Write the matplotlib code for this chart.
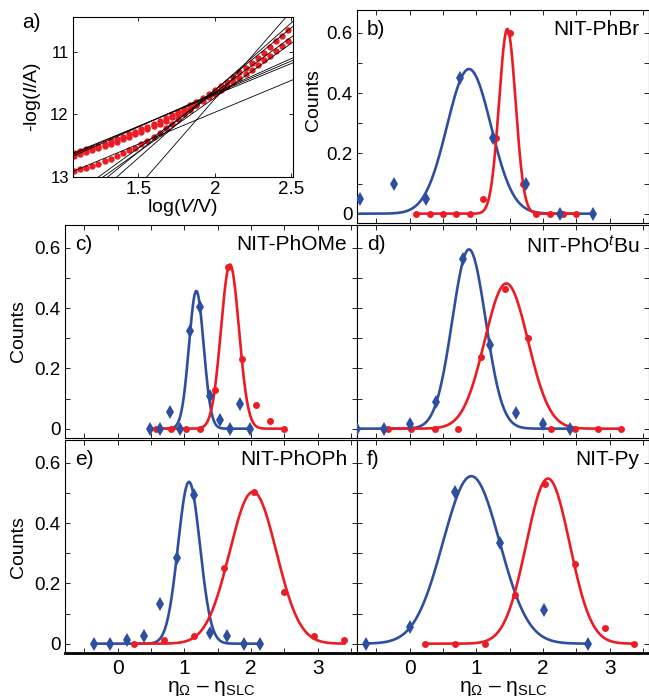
import numpy as np
import matplotlib
matplotlib.use("Agg")
import matplotlib.pyplot as plt

plt.rcParams['font.family'] = 'Liberation Sans'
plt.rcParams['mathtext.fontset'] = 'custom'
plt.rcParams['mathtext.rm'] = 'Liberation Sans'
plt.rcParams['mathtext.it'] = 'Liberation Sans:italic'
plt.rcParams['mathtext.sf'] = 'Liberation Sans'

RED = '#ec1c24'
BLUE = '#2e4fa0'

# ---- panel a: log-log I-V curves ----
logv_a = [1.08, 1.12, 1.16, 1.20, 1.24, 1.28, 1.32, 1.36, 1.40, 1.44, 1.48, 1.52,
          1.56, 1.60, 1.64, 1.68, 1.72, 1.76, 1.80, 1.84, 1.88, 1.92, 1.96, 2.00,
          2.04, 2.08, 2.12, 2.16, 2.20, 2.24, 2.28, 2.32, 2.36, 2.40, 2.44, 2.48]
logi_a1 = [12.62, 12.59, 12.56, 12.53, 12.50, 12.47, 12.43, 12.40, 12.36, 12.32, 12.28, 12.24,
           12.20, 12.15, 12.11, 12.06, 12.01, 11.96, 11.91, 11.85, 11.80, 11.74, 11.68, 11.61,
           11.55, 11.48, 11.41, 11.33, 11.26, 11.18, 11.10, 11.02, 10.93, 10.84, 10.75, 10.66]
logi_a2 = [12.66, 12.63, 12.60, 12.57, 12.54, 12.51, 12.47, 12.44, 12.40, 12.36, 12.32, 12.28,
           12.24, 12.19, 12.15, 12.10, 12.05, 12.00, 11.95, 11.90, 11.85, 11.79, 11.73, 11.67,
           11.61, 11.55, 11.49, 11.42, 11.36, 11.29, 11.22, 11.14, 11.07, 10.99, 10.92, 10.84]
logi_a3 = [12.90, 12.87, 12.85, 12.82, 12.79, 12.75, 12.71, 12.67, 12.62, 12.57, 12.53, 12.48,
           12.43, 12.37, 12.30, 12.22, 12.15, 12.08, 12.00, 11.93, 11.86]
# fit lines: (x0, y0, x1, y1)
fit_lines_a = [
    (1.074, 12.67, 2.51, 11.10),
    (1.074, 12.64, 2.51, 11.14),
    (1.074, 12.62, 2.51, 11.18),
    (1.074, 12.91, 2.51, 11.45),
    (1.24, 13.0, 2.51, 10.75),
    (1.27, 13.0, 2.51, 10.85),
    (1.30, 13.0, 2.51, 10.60),
    (1.36, 13.0, 2.51, 10.52),
    (1.555, 13.0, 2.465, 10.45),
]

# ---- histogram panels b-f ----
panels = ['b)', 'c)', 'd)', 'e)', 'f)']
names = ['NIT-PhBr', 'NIT-PhOMe', 'NIT-PhO$^{t}$Bu', 'NIT-PhOPh', 'NIT-Py']

blue_x = [
    [-0.75, -0.24, 0.25, 0.755, 1.255, 1.75, 2.25, 2.75],
    [0.48, 0.63, 0.78, 0.93, 1.08, 1.23, 1.38, 1.53, 1.68, 1.83, 1.98],
    [-0.79, -0.39, 0.01, 0.40, 0.80, 1.20, 1.60, 2.00, 2.40],
    [-0.35, -0.11, 0.14, 0.39, 0.64, 0.89, 1.14, 1.39, 1.64, 1.89, 2.14],
    [-0.66, 0.0, 0.675, 1.35, 2.01, 2.68],
]
blue_y = [
    [0.05, 0.10, 0.05, 0.45, 0.25, 0.10, 0.0, 0.0],
    [0.0, 0.0, 0.055, 0.0, 0.324, 0.405, 0.107, 0.028, 0.0, 0.082, 0.0],
    [0.0, 0.0, 0.014, 0.087, 0.564, 0.277, 0.053, 0.014, 0.0],
    [0.0, 0.0, 0.013, 0.025, 0.13, 0.284, 0.493, 0.037, 0.025, 0.0, 0.0],
    [0.0, 0.055, 0.504, 0.334, 0.111, 0.0],
]
red_x = [
    [0.1, 0.3, 0.5, 0.7, 0.9, 1.1, 1.3, 1.5, 1.7, 1.9, 2.1, 2.3, 2.5],
    [0.58, 0.80, 1.03, 1.23, 1.46, 1.66, 1.87, 2.07, 2.28, 2.49],
    [-0.325, 0.025, 0.375, 0.725, 1.075, 1.425, 1.775, 2.125, 2.475, 2.825, 3.175],
    [0.24, 0.69, 1.14, 1.59, 2.05, 2.50, 2.95, 3.40],
    [0.23, 0.675, 1.125, 1.575, 2.025, 2.475, 2.925, 3.365],
]
red_y = [
    [0.0, 0.0, 0.0, 0.0, 0.0, 0.05, 0.25, 0.60, 0.10, 0.0, 0.0, 0.0, 0.0],
    [0.0, 0.0, 0.0, 0.0, 0.127, 0.537, 0.23, 0.079, 0.027, 0.0],
    [0.0, 0.0, 0.0, 0.0, 0.239, 0.463, 0.302, 0.0, 0.0, 0.0, 0.0],
    [0.0, 0.011, 0.024, 0.252, 0.504, 0.171, 0.024, 0.011],
    [0.0, 0.0, 0.0, 0.16, 0.531, 0.266, 0.052, 0.0],
]
# gaussian fits: (amplitude, centre, sigma)
blue_fit = [(0.48, 0.89, 0.33), (0.457, 1.18, 0.11), (0.595, 0.89, 0.25),
            (0.537, 1.07, 0.165), (0.556, 0.925, 0.425)]
red_fit = [(0.613, 1.465, 0.124), (0.545, 1.685, 0.135), (0.482, 1.45, 0.325),
           (0.504, 2.03, 0.35), (0.548, 2.075, 0.325)]


def gauss(x, a, mu, s):
    return a * np.exp(-(x - mu) ** 2 / (2 * s ** 2))


W, H = 649.0, 700.0
fig = plt.figure(figsize=(6.49, 7.0), dpi=100)


def px_axes(left, top, right, bottom):
    return fig.add_axes([left / W, 1 - bottom / H, (right - left) / W, (bottom - top) / H])


# panel a
ax = px_axes(73, 17, 293, 177)
for yy in (logi_a1, logi_a2):
    ax.plot(logv_a, yy, 'o', color=RED, ms=4.6, mew=0)
ax.plot(logv_a[:len(logi_a3)], logi_a3, 'o', color=RED, ms=4.6, mew=0)
for x0, y0, x1, y1 in fit_lines_a:
    ax.plot([x0, x1], [y0, y1], color='black', lw=0.6)
ax.set_xlim(1.074, 2.51)
ax.set_ylim(13.0, 10.45)
ax.set_xticks([1.5, 2, 2.5])
ax.set_xticklabels(['1.5', '2', '2.5'])
ax.set_yticks([11, 12, 13])
ax.tick_params(direction='in', top=True, right=True, length=3, width=0.6)
ax.tick_params(axis='x', labelsize=13.5, pad=3)
ax.tick_params(axis='y', labelsize=12, pad=3)
for sp in ax.spines.values():
    sp.set_linewidth(0.8)
ax.text(-0.185, 0.5, '-log($I$/A)', transform=ax.transAxes, rotation=90,
        ha='center', va='center', fontsize=14)
ax.text(0.5, -0.19, 'log($V$/V)', transform=ax.transAxes, ha='center', va='center', fontsize=14)
fig.text(31 / W, 1 - 23 / H, 'a)', ha='center', va='center', fontsize=15)

# panels b-f: pixel boxes
boxes = [(357, 10, 649, 223), (65, 225, 357, 438), (357, 225, 649, 438),
         (65, 440, 357, 653), (357, 440, 649, 653)]
count_pos = [(313.5, 100), (18, 331), None, (18, 547), None]

for i in range(5):
    l, t, r, b = boxes[i]
    ax = px_axes(l, t, r, b)
    xs = np.linspace(blue_x[i][0], blue_x[i][-1], 300)
    ax.plot(xs, gauss(xs, *blue_fit[i]), color=BLUE, lw=1.9, zorder=2)
    xs = np.linspace(red_x[i][0], red_x[i][-1], 300)
    ax.plot(xs, gauss(xs, *red_fit[i]), color=RED, lw=1.9, zorder=2)
    ax.plot(red_x[i], red_y[i], 'o', color=RED, ms=5.0, mew=0, zorder=3)
    ax.plot(blue_x[i], blue_y[i], 'd', color=BLUE, ms=6.8, mew=0, zorder=3)
    ax.set_xlim(-0.79, 3.59)
    ax.set_ylim(-0.031, 0.676)
    ax.set_xticks([0, 1, 2, 3])
    ax.set_xticks([-0.5, 0.5, 1.5, 2.5, 3.5], minor=True)
    ax.set_yticks([0, 0.2, 0.4, 0.6])
    ax.set_yticks([0.1, 0.3, 0.5], minor=True)
    ax.tick_params(which='both', direction='in', top=True, right=True, length=3.5, width=0.6)
    ax.tick_params(axis='y', labelsize=13.5, pad=3)
    ax.tick_params(axis='x', labelsize=15, pad=4)
    for sp in ax.spines.values():
        sp.set_linewidth(0.8)
    if i in (0, 1, 3):
        ax.set_yticklabels(['0', '0.2', '0.4', '0.6'])
    else:
        ax.set_yticklabels([])
    if i in (3, 4):
        ax.set_xticklabels(['0', '1', '2', '3'])
        ax.spines['bottom'].set_linewidth(2.0)
        ax.text(0.5, -0.165, r'$\mathrm{\eta}_{\mathrm{\Omega}}$ – $\mathrm{\eta}_{\mathrm{SLC}}$',
                transform=ax.transAxes, ha='center', va='center', fontsize=15)
    else:
        ax.set_xticklabels([])
    if count_pos[i] is not None:
        cx, cy = count_pos[i]
        fig.text(cx / W, 1 - cy / H, 'Counts', rotation=90, ha='center', va='center', fontsize=14)
    ax.text(10 / (r - l), 1 - 10 / (b - t), panels[i], transform=ax.transAxes,
            ha='left', va='top', fontsize=15)
    ax.text(1 - 10 / (r - l), 1 - 10 / (b - t), names[i], transform=ax.transAxes,
            ha='right', va='top', fontsize=15)

fig.savefig('out.png', dpi=100)
